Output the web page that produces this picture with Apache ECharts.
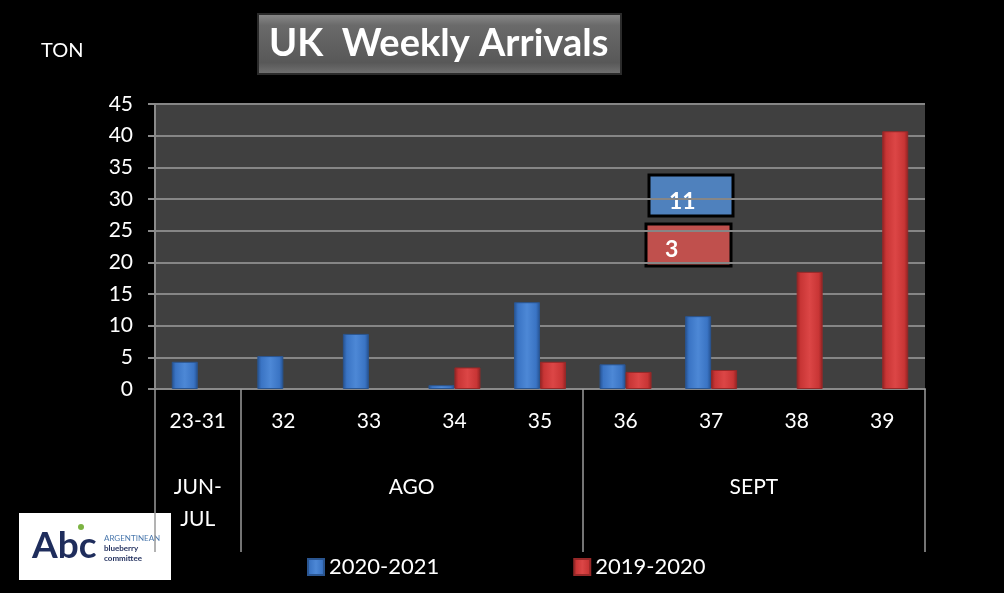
<!DOCTYPE html>
<html>
<head>
<meta charset="utf-8">
<title>UK Weekly Arrivals</title>
<script src="https://cdn.jsdelivr.net/npm/echarts@6.0.0/dist/echarts.min.js"></script>
<style>
  html, body { margin: 0; padding: 0; background: #000; }
  #chart { width: 1004px; height: 593px; }
</style>
</head>
<body>
<div id="chart"></div>
<script>
// semanas (eje x) y valores en toneladas
var weeks = ['23-31', '32', '33', '34', '35', '36', '37', '38', '39'];
var season2021 = [4.3, 5.2, 8.7, 0.6, 13.7, 3.9, 11.5, null, null];
var season2020 = [null, null, null, 3.4, 4.3, 2.7, 3.0, 18.5, 40.7];
// meses agrupando semanas
var monthLabels = ['JUN-\nJUL', 'AGO', 'SEPT'];
var monthSpans = [1, 4, 4];
// cuadros de la semana 37
var calloutValues = ['11', '3'];
var yTicks = [0, 5, 10, 15, 20, 25, 30, 35, 40, 45];

var FONT = 'Lato, "Noto Sans", sans-serif';

// limites y centros de los meses
var bounds = [0];
var centers = [];
monthSpans.forEach(function (n, i) {
  centers.push(bounds[i] + n / 2);
  bounds.push(bounds[i] + n);
});

function bevel(dark, mid, light) {
  return new echarts.graphic.LinearGradient(0, 0, 1, 0, [
    { offset: 0, color: dark },
    { offset: 0.15, color: mid },
    { offset: 0.5, color: light },
    { offset: 0.85, color: mid },
    { offset: 1, color: dark }
  ]);
}

var chart = echarts.init(document.getElementById('chart'));
var option = {
  backgroundColor: '#000',
  animation: false,
  textStyle: { fontFamily: FONT },
  title: [
    {
      text: 'UK  Weekly Arrivals',
      left: 258,
      top: 14,
      padding: [10, 13, 10, 11],
      backgroundColor: new echarts.graphic.LinearGradient(0, 0, 0, 1, [
        { offset: 0, color: '#8c8c8c' },
        { offset: 0.2, color: '#6a6a6a' },
        { offset: 0.8, color: '#585858' },
        { offset: 1, color: '#747474' }
      ]),
      borderColor: '#2b2b2b',
      borderWidth: 2,
      textStyle: { color: '#fff', fontSize: 38, fontWeight: 'bold', fontFamily: FONT, lineHeight: 40 }
    },
    {
      text: 'TON',
      left: 36,
      top: 36,
      textStyle: { color: '#fff', fontSize: 20, fontWeight: 'normal', fontFamily: FONT }
    }
  ],
  legend: {
    left: 302,
    top: 551,
    itemWidth: 16,
    itemHeight: 16,
    itemGap: 134,
    icon: 'rect',
    textStyle: { color: '#fff', fontSize: 22, fontFamily: FONT },
    data: ['2020-2021', '2019-2020']
  },
  grid: {
    left: 155,
    right: 79,
    top: 104,
    bottom: 204,
    show: true,
    backgroundColor: '#404040',
    borderWidth: 0
  },
  xAxis: [
    {
      type: 'category',
      data: weeks,
      position: 'bottom',
      axisLine: { lineStyle: { color: '#8a8a8a', width: 2 } },
      axisTick: { length: 63, lineStyle: { color: '#9a9a9a', width: 1.5 } },
      axisLabel: { color: '#fff', fontSize: 21, margin: 22, fontFamily: FONT },
      splitLine: { show: false }
    },
    {
      type: 'value',
      min: 0,
      max: bounds[bounds.length - 1],
      position: 'bottom',
      axisLine: { show: false },
      splitLine: { show: false },
      axisTick: {
        customValues: bounds,
        length: 163,
        lineStyle: { color: '#9a9a9a', width: 1.5 }
      },
      axisLabel: {
        customValues: centers,
        color: '#fff',
        fontSize: 21,
        lineHeight: 32,
        margin: 82,
        fontFamily: FONT,
        formatter: function (v) {
          var i = centers.indexOf(v);
          return i >= 0 ? monthLabels[i] : '';
        }
      }
    }
  ],
  yAxis: {
    type: 'value',
    min: 0,
    max: 45,
    interval: 5,
    axisLine: { show: true, lineStyle: { color: '#8a8a8a', width: 2 } },
    axisTick: { show: true, length: 7, lineStyle: { color: '#8a8a8a', width: 2 } },
    axisLabel: {
      color: '#fff',
      fontSize: 21,
      margin: 22,
      fontFamily: FONT,
      customValues: yTicks
    },
    splitLine: { lineStyle: { color: '#868686', width: 2 } }
  },
  series: [
    {
      name: '2020-2021',
      type: 'bar',
      barWidth: 26,
      barGap: '0%',
      data: season2021,
      itemStyle: {
        color: bevel('#24508f', '#3a74c4', '#4d88d6'),
        borderColor: '#2a5590',
        borderWidth: 1
      }
    },
    {
      name: '2019-2020',
      type: 'bar',
      barWidth: 26,
      barGap: '0%',
      data: season2020,
      itemStyle: {
        color: bevel('#8f2222', '#c83535', '#dc4646'),
        borderColor: '#962828',
        borderWidth: 1
      }
    }
  ],
  graphic: [
    // cuadros de valores
    {
      type: 'rect',
      shape: { x: 649, y: 175, width: 84, height: 41 },
      style: { fill: '#4f81bd', stroke: '#000', lineWidth: 3 }
    },
    {
      type: 'text',
      x: 669, y: 202,
      style: { text: calloutValues[0], fill: '#fff', font: 'bold 23px ' + FONT, verticalAlign: 'middle' }
    },
    {
      type: 'rect',
      shape: { x: 646, y: 224, width: 85, height: 42 },
      style: { fill: '#c0504d', stroke: '#000', lineWidth: 3 }
    },
    {
      type: 'text',
      x: 665, y: 250,
      style: { text: calloutValues[1], fill: '#fff', font: 'bold 23px ' + FONT, verticalAlign: 'middle' }
    },
    // logo
    {
      type: 'rect',
      shape: { x: 19, y: 513, width: 152, height: 67 },
      style: { fill: '#fff' }
    },
    {
      type: 'text',
      x: 32, y: 546,
      style: { text: 'Abc', fill: '#1f2d5c', font: 'bold 37px ' + FONT, verticalAlign: 'middle' }
    },
    {
      type: 'circle',
      shape: { cx: 81, cy: 527, r: 3 },
      style: { fill: '#7cb342' }
    },
    {
      type: 'text',
      x: 104, y: 538,
      style: { text: 'ARGENTINEAN', fill: '#4a78ad', font: '8px ' + FONT, verticalAlign: 'middle' }
    },
    {
      type: 'text',
      x: 104, y: 548,
      style: { text: 'blueberry', fill: '#1f2d5c', font: 'bold 8px ' + FONT, verticalAlign: 'middle' }
    },
    {
      type: 'text',
      x: 104, y: 558,
      style: { text: 'committee', fill: '#1f2d5c', font: 'bold 8px ' + FONT, verticalAlign: 'middle' }
    }
  ]
};
chart.setOption(option);
</script>
</body>
</html>
